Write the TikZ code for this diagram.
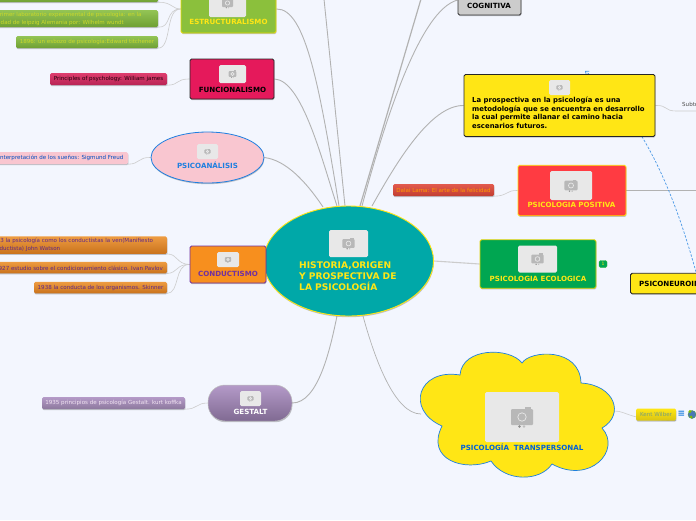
\documentclass[tikz,border=0pt]{standalone}
\usepackage{fontspec}
\setmainfont{DejaVu Sans}
\usepackage{xcolor}
\usetikzlibrary{arrows.meta,shapes,shapes.geometric,positioning,shadows,backgrounds}
\definecolor{pagebg}{HTML}{F3F6FE}
\definecolor{sunny}{HTML}{FFE615}
\definecolor{teal1}{HTML}{00A8A8}
\definecolor{linkblue}{HTML}{1E7FE0}
\definecolor{violet1}{HTML}{7030A0}
\definecolor{leaf}{HTML}{8BC03C}
\definecolor{leaftop}{HTML}{93C455}
\definecolor{leafbot}{HTML}{6FA032}
\definecolor{leaftext}{HTML}{CBD82A}
\definecolor{crimson1}{HTML}{E5195B}
\definecolor{crimtop}{HTML}{DE3D6E}
\definecolor{crimbot}{HTML}{B82455}
\definecolor{blush}{HTML}{F9C6D0}
\definecolor{tang}{HTML}{F78F1E}
\definecolor{tangtop}{HTML}{EE9C42}
\definecolor{tangbot}{HTML}{C9721C}
\definecolor{lilactop}{HTML}{B49AC8}
\definecolor{lilacbot}{HTML}{806A92}
\definecolor{rosered}{HTML}{FF3B42}
\definecolor{brick1}{HTML}{E25A4E}
\definecolor{brick2}{HTML}{C23E30}
\definecolor{forest}{HTML}{00A651}
\newcommand{\photo}[6]{%
  \node[photobox, minimum width=#4pt, minimum height=#5pt] (#1) at (#2,#3) {};
  \pic[scale=#6] at (#1) {camera};
}
\begin{document}
\begin{tikzpicture}[
  x=1pt, y=-1pt,
  softshadow/.style={drop shadow={shadow xshift=0.4pt, shadow yshift=-1.2pt, opacity=.22, fill=black}},
  topic/.style={draw, line width=.9pt, rounded corners=1.6pt, inner sep=0pt, softshadow},
  title/.style={font=\fontsize{7.1}{8}\selectfont\bfseries, inner sep=0pt},
  item/.style={rounded corners=1.5pt, inner sep=0pt, softshadow, minimum height=12pt},
  itemtext/.style={font=\fontsize{5.55}{8.2}\selectfont, inner sep=0pt, align=left},
  photobox/.style={fill=black!9, rounded corners=1.5pt, inner sep=0pt},
  main/.style={draw=black!30, line width=.9pt},
  sub/.style={draw=black!20, line width=.6pt},
  linkarr/.style={draw=linkblue!80, line width=.7pt, dashed, dash pattern=on 2.4pt off 1.6pt, -{Straight Barb[length=3pt,width=5pt]}},
  camera/.pic={
    \fill[black!28, rounded corners=1pt] (-11,-8) rectangle (11,8);
    \fill[black!28] (3,-10) rectangle (9,-8);
    \draw[black!9, line width=.7pt] (0,0) circle (4.2);
    \fill[black!45] (-2.5,9.5) circle (1.3);
    \fill[black!25] (2,9.5) circle (1.3);
  }
]
\useasboundingbox (0,0) rectangle (696,520);

% central idea
\node[ellipse, draw=sunny, fill=teal1, line width=.9pt, minimum width=170pt, minimum height=110pt, inner sep=0pt, softshadow] (central) at (348.5,261) {};
\photo{pcentral}{348.5}{243.5}{39}{27}{.56}
\node[title, text=sunny, align=left, anchor=north west, font=\fontsize{9.1}{11}\selectfont\bfseries] (tcentral) at (299,261.5) {HISTORIA,ORIGEN\\Y PROSPECTIVA DE\\LA PSICOLOGÍA};

% left side
\node[topic, draw=yellow!80!olive, fill=leaf, minimum width=95pt, minimum height=48pt] (estruct) at (228.5,9) {};
\photo{pestruct}{227.5}{3}{37}{28}{.5}
\node[title, text=sunny] (testruct) at (228.5,22) {ESTRUCTURALISMO};

\node[item, top color=leaftop, bottom color=leafbot, minimum width=160pt, minimum height=10pt] (est1) at (78,-3) {};
\node[item, top color=leaftop, bottom color=leafbot, minimum width=182pt, minimum height=17pt] (est2) at (67,18.5) {};
\node[itemtext, text=leaftext, anchor=west] (test2) at (-22,18.5) {1879: Primer laboratorio experimental de psicología: en la\\Universidad de leipzig Alemania por: Wilhelm wundt};
\node[item, top color=leaftop, bottom color=leafbot, minimum width=142pt] (est3) at (87,42) {\fontsize{5.55}{7}\selectfont\color{leaftext}1896: un esbozo de psicología:Edward titchener};

\node[topic, draw=black!85, fill=crimson1, minimum width=84pt, minimum height=40pt] (func) at (232,79) {};
\photo{pfunc}{232.5}{74}{27}{18}{.36}
\node[title, text=black] (tfunc) at (232.5,89.5) {FUNCIONALISMO};
\node[item, top color=crimtop, bottom color=crimbot, minimum width=117pt] (fitem) at (108.5,79) {\fontsize{5.55}{7}\selectfont\color{black!80!purple}Principles of psychology: William james};

\node[ellipse, draw=linkblue, fill=blush, line width=.8pt, minimum width=113pt, minimum height=51pt, inner sep=0pt, softshadow] (psico) at (207.5,157.5) {};
\photo{ppsico}{207.5}{151.5}{21}{15}{.28}
\node[title, text=linkblue] (tpsico) at (207.5,165.5) {PSICOANÁLISIS};
\node[item, fill=blush, minimum width=148pt] (pitem) at (54,158) {};
\node[itemtext, text=blue!60!cyan!75!black, anchor=east] (tpitem) at (123.5,157.5) {Interpretación de los sueños: Sigmund Freud};

\node[topic, draw=violet1, fill=tang, minimum width=76pt, minimum height=37pt] (conduct) at (228,264.5) {};
\photo{pconduct}{228}{259.5}{22}{15}{.29}
\node[title, text=violet1] (tconduct) at (228,273.5) {CONDUCTISMO};
\node[item, top color=tangtop, bottom color=tangbot, minimum width=190pt, minimum height=17.5pt] (con1) at (72,245) {};
\node[itemtext, text=violet1!85!black, anchor=west] (tcon1) at (-10.5,244.5) {1913 la psicología como los conductistas la ven(Manifiesto\\conductista) John Watson};
\node[item, top color=tangtop, bottom color=tangbot, minimum width=190pt, minimum height=11.5pt] (con2) at (72,267.5) {};
\node[itemtext, text=violet1!85!black, anchor=east] (tcon2) at (163,268) {1927 estudio sobre el condicionamiento clásico. Ivan Pavlov};
\node[item, top color=tangtop, bottom color=tangbot, minimum width=133pt, minimum height=11.5pt] (con3) at (100.5,287.5) {\fontsize{5.55}{7}\selectfont\color{violet1!85!black}1938 la conducta de los organismos. Skinner};

\node[topic, draw=black!25, line width=.5pt, top color=lilactop, bottom color=lilacbot, rounded corners=17pt, minimum width=84pt, minimum height=36pt] (gestalt) at (250,403) {};
\photo{pgestalt}{250.5}{398.5}{21}{15}{.28}
\node[title, text=white] (tgestalt) at (250.5,411.5) {GESTALT};
\node[item, top color=lilactop, bottom color=lilacbot!90!white, minimum width=143pt] (gitem) at (113.5,403) {\fontsize{5.55}{7}\selectfont\color{white!90!violet}1935 principios de psicología Gestalt. kurt koffka};

% right side
\node[topic, draw=black!80, fill=black!20, minimum width=63pt, minimum height=30pt] (cogn) at (489.5,0) {};
\node[title, text=black] (tcogn) at (489,5.5) {COGNITIVA};

\coordinate (tipend) at (585,71);
\node[topic, draw=black!85, fill=sunny, minimum width=191pt, minimum height=20.5pt] (neuro) at (726,283.5) {};
\node[title, text=black, anchor=west] (tneuro) at (639,283.5) {PSICONEUROINMUNOLOGIA};
\begin{pgfonlayer}{background}
\fill[pagebg] (0,0) rectangle (696,520);
\end{pgfonlayer}
\draw[linkarr] (696,272) .. controls (680,215) and (650,120) .. (tipend);

\node[topic, draw=black!85, fill=sunny, minimum width=191pt, minimum height=62pt] (prosp) at (559.5,105.5) {};
\photo{pprosp}{559.5}{87.5}{21}{15}{.28}
\node[title, text=black, align=left, anchor=north west, font=\fontsize{6.9}{8.8}\selectfont\bfseries] (tprosp) at (472,96.5) {La prospectiva en la psicología es una\\metodología que se encuentra en desarrollo\\la cual permite allanar el camino hacia\\escenarios futuros.};
\node[itemtext, text=black!70, anchor=west] (tsubtopic) at (682,105) {Subtopic};
\coordinate (subend) at (696,111);

\node[topic, draw=yellow!80!orange, fill=rosered, minimum width=108pt, minimum height=50.5pt] (positiva) at (572,190.5) {};
\photo{ppositiva}{571}{185.5}{42}{29}{.6}
\node[title, text=sunny] (tpositiva) at (571.5,205) {PSICOLOGIA POSITIVA};
\node[item, top color=brick1, bottom color=brick2, minimum width=101pt] (ditem) at (443.5,190) {\fontsize{5.55}{7}\selectfont\color{orange!80!yellow}Dalai Lama: El arte de la felicidad};
\coordinate (posend) at (696,190.5);

\node[topic, draw=yellow!70!olive, fill=forest, minimum width=116pt, minimum height=48.5pt] (ecolog) at (538,264) {};
\photo{pecolog}{537.5}{259}{39}{27}{.56}
\node[title, text=sunny] (tecolog) at (538,278.5) {PSICOLOGIA ECOLOGICA};
\node[fill=forest, draw=forest!80!yellow, rounded corners=1.5pt, minimum width=8pt, minimum height=7pt, inner sep=0pt, text=sunny, font=\fontsize{4.5}{5}\selectfont] (badge) at (603,264) {1};

% cloud, body drawn by hand around its named centre
\coordinate (cloudw) at (421,414);
\coordinate (cloude) at (614,411);
\filldraw[draw=linkblue, fill=sunny, line width=.7pt]
  (442,426) .. controls (405,410) and (418,368) .. (460,375)
  .. controls (462,347) and (510,347) .. (522,363)
  .. controls (530,350) and (580,347) .. (581,383)
  .. controls (615,385) and (625,415) .. (602,428)
  .. controls (622,450) and (590,485) .. (552,464)
  .. controls (540,482) and (505,482) .. (491,461)
  .. controls (465,472) and (425,460) .. (442,426) -- cycle;
\photo{ptrans}{522}{417}{74}{50}{1}
\node[title, text=blue!55!cyan!85!black] (ttrans) at (522,447) {PSICOLOGÍA\ \ TRANSPERSONAL};
\node[item, top color=sunny, bottom color=sunny!85!black, minimum width=40pt] (kitem) at (656,414.5) {\fontsize{5.55}{7}\selectfont\color{olive!50!cyan!70!gray}Kent Wilber};
\node[inner sep=0pt, text=linkblue, font=\fontsize{9}{9}\selectfont\bfseries] (knote) at (681.5,414) {≡};
\node[circle, fill=cyan!50!blue!70!gray, draw=green!40!black!70, line width=.4pt, minimum size=8pt, inner sep=0pt] (kglobe) at (692,414.5) {};
\fill[green!50!orange] (690,411.5) circle (1.7) (691,417) circle (1.5);

\coordinate (offa) at (324,-1);
\coordinate (offb) at (421,-1);
\begin{pgfonlayer}{background}
\draw[main] (estruct.east) .. controls (306,8) and (320,90) .. (339,206);
\draw[main] (func.east) .. controls (302,80) and (322,160) .. (337,206);
\draw[main] (psico.east) .. controls (285,160) and (305,180) .. (323,207);
\draw[main] (offa) -- (345,206);
\draw[main, line width=1.2pt] (offb) -- (360,206);
\draw[main] (cogn.west) .. controls (420,10) and (385,120) .. (362,206);
\draw[main] (prosp.west) .. controls (430,105) and (395,165) .. (372,206);
\draw[main, draw=black!20, line width=1.1pt] (central.east) -- (ecolog.west);
\draw[main] (positiva.east) -- (posend);
\draw[main] (gestalt.east) .. controls (318,403) and (330,350) .. (337,316);
\draw[main, line width=.7pt] (cloudw) .. controls (395,414) and (375,360) .. (363,316);
\draw[sub] (est1.south east) .. controls (172,2) and (172,9) .. (estruct.west);
\draw[sub] (est2.south east) .. controls (172,28) and (165,9) .. (estruct.west);
\draw[sub] (est3.south east) .. controls (172,48) and (165,9) .. (estruct.west);
\draw[sub] (fitem.south east) .. controls (180,85) and (175,79) .. (func.west);
\draw[sub] (pitem.south east) .. controls (140,164) and (138,157) .. (psico.west);
\draw[sub] (con1.south east) .. controls (178,254) and (176,264) .. (conduct.west);
\draw[sub] (con2.south east) .. controls (178,273) and (176,264) .. (conduct.west);
\draw[sub] (con3.south east) .. controls (180,293) and (174,264) .. (conduct.west);
\draw[sub] (gitem.south east) .. controls (198,409) and (196,403) .. (gestalt.west);
\draw[sub] (ditem.south east) .. controls (508,196) and (506,190) .. (positiva.west);
\draw[sub] (prosp.east) .. controls (668,105) and (664,111) .. (676,111) -- (subend);
\draw[sub] (cloude) .. controls (628,411) and (626,420) .. (kitem.south east);
\end{pgfonlayer}
\end{tikzpicture}
\end{document}
